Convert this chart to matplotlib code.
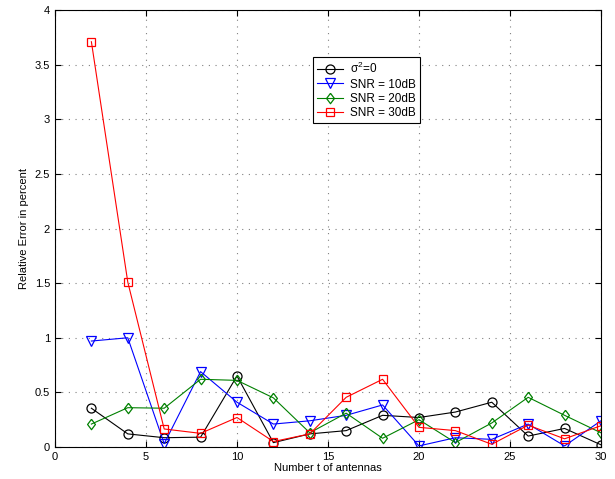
import numpy as np
import matplotlib.pyplot as plt

plt.rcParams['font.family'] = ['Liberation Sans', 'DejaVu Sans']
plt.rcParams['mathtext.fontset'] = 'custom'
plt.rcParams['mathtext.rm'] = 'Liberation Sans'

# number of antennas
t = [2, 4, 6, 8, 10, 12, 14, 16, 18, 20, 22, 24, 26, 28, 30]

# relative error in percent
err_noiseless = [0.355, 0.12, 0.085, 0.09, 0.65, 0.04, 0.12, 0.15, 0.29, 0.27, 0.32, 0.41, 0.10, 0.17, 0.02]
err_10db = [0.97, 1.0, 0.03, 0.69, 0.41, 0.21, 0.24, 0.29, 0.385, 0.01, 0.085, 0.07, 0.21, 0.01, 0.24]
err_20db = [0.21, 0.36, 0.355, 0.62, 0.61, 0.45, 0.13, 0.31, 0.08, 0.25, 0.04, 0.22, 0.455, 0.29, 0.13]
err_30db = [3.71, 1.51, 0.165, 0.125, 0.27, 0.05, 0.12, 0.455, 0.62, 0.18, 0.15, 0.025, 0.20, 0.075, 0.195]

# matlab-ish diamond, a bit wider than 'd'
diamond = [(0, 1), (0.75, 0), (0, -1), (-0.75, 0), (0, 1)]

fig = plt.figure(figsize=(6.15, 4.79), dpi=100)
ax = fig.add_axes([0.0894, 0.0668, 0.8878, 0.9122])

ax.plot(t, err_noiseless, 'k-o', mfc='none', ms=6.5, lw=0.8, mew=0.9, label=r'$\mathregular{\sigma^2}$=0')
ax.plot(t, err_10db, 'b-v', mfc='none', ms=7, lw=0.8, mew=0.9, label='SNR = 10dB')
ax.plot(t, err_20db, '-', marker=diamond, color='green', mfc='none', ms=7.5, lw=0.8, mew=0.9, label='SNR = 20dB')
ax.plot(t, err_30db, 'r-s', mfc='none', ms=5.5, lw=0.8, mew=0.9, label='SNR = 30dB')

ax.set_xlim(0, 30)
ax.set_ylim(0, 4)
ax.set_xticks(np.arange(0, 31, 5))
ax.set_yticks(np.arange(0, 4.01, 0.5))
ax.set_yticklabels(['0', '0.5', '1', '1.5', '2', '2.5', '3', '3.5', '4'])
ax.grid(True, linestyle=(0, (1, 5)), color='gray', lw=0.8)
ax.tick_params(direction='in', top=True, right=True, labelsize=8, length=4)
for s in ax.spines.values():
    s.set_linewidth(0.8)

ax.set_xlabel('Number t of antennas', fontsize=8, labelpad=1)
ax.set_ylabel('Relative Error in percent', fontsize=8, labelpad=4)

leg = ax.legend(loc='upper left', bbox_to_anchor=(0.473, 0.893), borderaxespad=0, fontsize=8.5,
                fancybox=False, edgecolor='black', framealpha=1,
                handlelength=2.2, borderpad=0.35, labelspacing=0.2, handletextpad=0.6)
leg.get_frame().set_linewidth(0.8)

fig.savefig('out.png', dpi=100)
